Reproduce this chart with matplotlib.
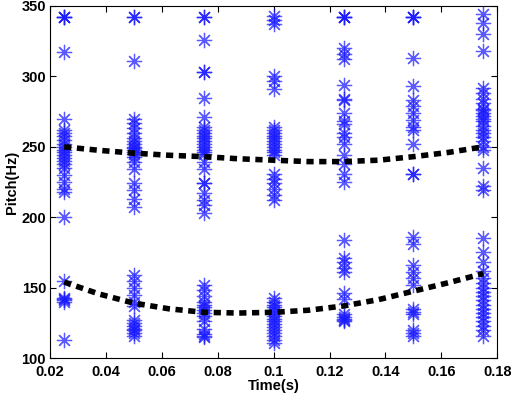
import matplotlib
import matplotlib.pyplot as plt
from matplotlib.ticker import FormatStrFormatter

matplotlib.use("Agg")

plt.rcParams["font.family"] = ["Liberation Sans", "DejaVu Sans"]
plt.rcParams["font.weight"] = "bold"

# ── Data ──────────────────────────────────────────────────────────────────────

FRAME_TIMES = [0.025, 0.05, 0.075, 0.1, 0.125, 0.15, 0.175]

PITCH_CANDIDATES = [
    # t = 0.025
    [342, 342, 342, 317, 270, 262, 260, 258, 255, 252, 250, 248, 246, 244, 242,
     240, 238, 235, 230, 225, 220, 218, 200, 155, 143, 142, 141, 140, 113],
    # t = 0.05
    [342, 342, 311, 270, 267, 263, 260, 256, 254, 252, 250, 249, 248, 246, 245,
     243, 239, 234, 224, 219, 213, 207, 159, 155, 150, 145, 140, 137, 127, 125,
     123, 121, 120, 118, 116],
    # t = 0.075
    [342, 342, 326, 303, 303, 285, 271, 264, 262, 260, 258, 256, 254, 252, 250,
     248, 246, 245, 239, 234, 224, 224, 217, 212, 209, 203, 152, 148, 144, 140,
     138, 136, 134, 132, 130, 126, 121, 117, 116, 115],
    # t = 0.1
    [343, 340, 337, 300, 297, 291, 264, 262, 260, 258, 256, 254, 252, 250, 248,
     246, 244, 231, 227, 224, 220, 216, 212, 143, 140, 138, 136, 134, 132, 130,
     128, 126, 124, 122, 120, 118, 116, 113, 111],
    # t = 0.125
    [342, 342, 342, 320, 316, 312, 294, 284, 283, 274, 268, 266, 260, 257, 252,
     244, 238, 231, 225, 184, 171, 168, 164, 161, 146, 142, 131, 129, 128, 127,
     126],
    # t = 0.15
    [342, 342, 342, 313, 293, 283, 279, 274, 269, 264, 262, 252, 231, 231, 186,
     181, 166, 161, 157, 152, 135, 133, 131, 120, 118, 116],
    # t = 0.175
    [344, 338, 330, 318, 292, 288, 284, 281, 277, 276, 274, 272, 270, 268, 265,
     262, 260, 257, 254, 250, 248, 235, 222, 219, 185, 175, 168, 162, 157, 153,
     150, 147, 144, 141, 138, 135, 132, 129, 126, 123, 120, 116],
]

TRACK_TIMES = [0.025, 0.0375, 0.05, 0.0625, 0.075, 0.0875, 0.1, 0.1125,
               0.125, 0.1375, 0.15, 0.1625, 0.175]
UPPER_TRACK = [250, 247.5, 245.5, 244, 243, 241.5, 240.5, 239.5,
               239.5, 240.5, 243, 246, 250]
LOWER_TRACK = [154, 145.5, 139, 135, 132.5, 132, 132.5, 134,
               137, 141.5, 147.5, 153.5, 160]

# ── Plot ──────────────────────────────────────────────────────────────────────

fig = plt.figure(figsize=(5.12, 3.97), dpi=100)
ax = fig.add_axes([0.098, 0.098, 0.873, 0.887])

for t, vals in zip(FRAME_TIMES, PITCH_CANDIDATES, strict=True):
    ax.plot([t] * len(vals), vals, linestyle="none", marker=(8, 2, 0),
            markersize=11, markeredgewidth=0.9, color="#1a1aff", alpha=0.72)

for track in (UPPER_TRACK, LOWER_TRACK):
    ax.plot(TRACK_TIMES, track, color="black", linewidth=4.0,
            dashes=(1.3, 1.0), solid_capstyle="butt", dash_capstyle="butt")

ax.set_xlim(0.02, 0.18)
ax.set_ylim(100, 350)
ax.set_xticks([0.02, 0.04, 0.06, 0.08, 0.1, 0.12, 0.14, 0.16, 0.18])
ax.set_yticks([100, 150, 200, 250, 300, 350])
ax.xaxis.set_major_formatter(FormatStrFormatter("%g"))
ax.tick_params(direction="in", length=4, width=0.8, labelsize=10.5,
               top=True, right=True)
ax.tick_params(axis="x", pad=5)
ax.tick_params(axis="y", pad=3)
for lab in ax.get_xticklabels() + ax.get_yticklabels():
    lab.set_fontweight("bold")
ax.set_xlabel("Time(s)", fontsize=10.5, fontweight="bold", labelpad=0)
ax.set_ylabel("Pitch(Hz)", fontsize=10.5, fontweight="bold", labelpad=2)
for s in ax.spines.values():
    s.set_linewidth(0.8)

fig.savefig("out.png", dpi=100)
plt.close(fig)
